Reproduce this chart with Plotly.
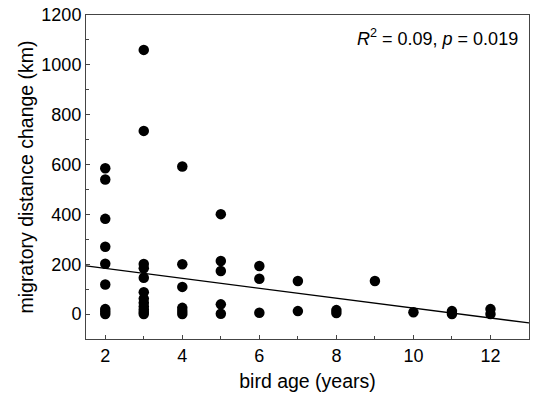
import plotly.graph_objects as go

# bird age (years) for each observation
age = [2, 2, 2, 2, 2, 2, 2, 2, 2,
       3, 3, 3, 3, 3, 3, 3, 3, 3, 3, 3, 3,
       4, 4, 4, 4, 4, 4,
       5, 5, 5, 5, 5,
       6, 6, 6,
       7, 7,
       8, 8,
       9,
       10,
       11, 11,
       12, 12]
# migratory distance change (km)
distance = [585, 540, 382, 270, 202, 119, 20, 10, 0,
            1060, 735, 201, 184, 146, 88, 62, 45, 30, 18, 8, 0,
            592, 200, 109, 25, 12, 0,
            401, 213, 173, 39, 1,
            193, 142, 5,
            133, 12,
            16, 4,
            133,
            7,
            12, 0,
            20, 0]

fit_intercept = 223.0
fit_slope = -19.9
x_range = [1.5, 13]
y_range = [-100, 1200]
annotation_text = "<i>R</i><sup>2</sup> = 0.09, <i>p</i> = 0.019"

fit_x = x_range
fit_y = [fit_intercept + fit_slope * v for v in fit_x]

fig = go.Figure()
fig.add_trace(go.Scatter(x=age, y=distance, mode="markers",
                         marker=dict(color="black", size=10.5),
                         showlegend=False, cliponaxis=False))
fig.add_trace(go.Scatter(x=fit_x, y=fit_y, mode="lines",
                         line=dict(color="black", width=1.3),
                         showlegend=False))

font_family = "Liberation Sans, Arial, sans-serif"
fig.update_layout(
    width=533, height=397,
    margin=dict(l=86, r=4, t=15, b=58, autoexpand=False),
    paper_bgcolor="white", plot_bgcolor="white",
    font=dict(family=font_family, size=18, color="black"),
    annotations=[dict(text=annotation_text, xref="paper", yref="paper",
                      x=0.98, y=0.932, xanchor="right", yanchor="middle",
                      showarrow=False, font=dict(size=18))],
)
fig.update_xaxes(range=x_range, tickvals=[2, 4, 6, 8, 10, 12],
                 showgrid=False, zeroline=False, automargin=False,
                 showline=True, linecolor="#444", linewidth=1, mirror=True,
                 ticks="inside", ticklen=4, tickcolor="#444",
                 minor=dict(ticks="inside", ticklen=3, dtick=1, tickcolor="#444", showgrid=False),
                 title=dict(text="bird age (years)", font=dict(size=19.5), standoff=9),
                 tickfont=dict(size=18))
fig.update_yaxes(range=y_range, tickvals=[0, 200, 400, 600, 800, 1000, 1200],
                 showgrid=False, zeroline=False, automargin=False,
                 showline=True, linecolor="#444", linewidth=1, mirror=True,
                 ticks="inside", ticklen=4, tickcolor="#444",
                 minor=dict(ticks="inside", ticklen=3, dtick=100, tickcolor="#444", showgrid=False),
                 title=dict(text="migratory distance change (km)", font=dict(size=19.5), standoff=2),
                 tickfont=dict(size=18))

fig.write_html("out.html",
               config={"displayModeBar": False},
               post_script="document.body.style.margin='0';document.body.style.overflow='hidden';")
